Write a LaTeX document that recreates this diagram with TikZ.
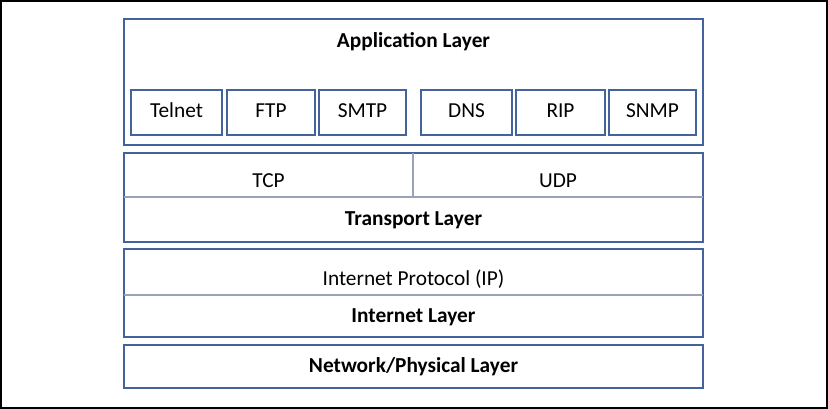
\documentclass[tikz,border=0pt]{standalone}
\usepackage{fontspec}
\setmainfont{Carlito}
\usepackage{tikz}
\definecolor{layerblue}{HTML}{44639E}
\definecolor{splitgray}{HTML}{9AA2B8}

\begin{document}
\begin{tikzpicture}[x=0.75pt, y=-0.75pt,
    layer/.style={draw=layerblue, line width=1.7pt},
    proto/.style={draw=layerblue, line width=1.4pt},
    split/.style={draw=splitgray, line width=0.9pt},
    txt/.style={anchor=base, inner sep=0pt, font=\fontsize{16}{19}\selectfont},
    heading/.style={txt, font=\fontsize{16}{19}\selectfont\bfseries}]
        \useasboundingbox (0,0) rectangle (828,409);

        % frame
        \draw [line width=1.5pt] (1,1) rectangle (827,408);

        % application layer
        \draw [layer] (124,19) rectangle (703,145);
        \node [heading] (app) at (413.5,48) {Application Layer};

        % protocols
        \foreach \a/\b/\name/\nm in {131/222/Telnet/telnet, 227/315/FTP/ftp,
            319/406/SMTP/smtp, 421/512/DNS/dns, 516/605/RIP/rip, 609/696/SNMP/snmp} {
          \draw [proto] (\a,90) rectangle (\b,135);
          \node [txt] (\nm) at ({(\a+\b)/2},118) {\name};
        }

        % transport layer
        \draw [layer] (124,153) rectangle (703,242);
        \draw [split] (124,197) -- (703,197);
        \draw [split] (413,153) -- (413,197);
        \node [txt] (tcp) at (268.5,188) {TCP};
        \node [txt] (udp) at (558,188) {UDP};
        \node [heading] (transport) at (413.5,226) {Transport Layer};

        % internet layer
        \draw [layer] (124,249) rectangle (703,337);
        \draw [split] (124,295) -- (703,295);
        \node [txt] (ip) at (413.5,286) {Internet Protocol (IP)};
        \node [heading] (internet) at (413.5,323) {Internet Layer};

        % network layer
        \draw [layer] (124,345) rectangle (703,388);
        \node [heading] (network) at (413.5,373) {Network/Physical Layer};

      \end{tikzpicture}
\end{document}
